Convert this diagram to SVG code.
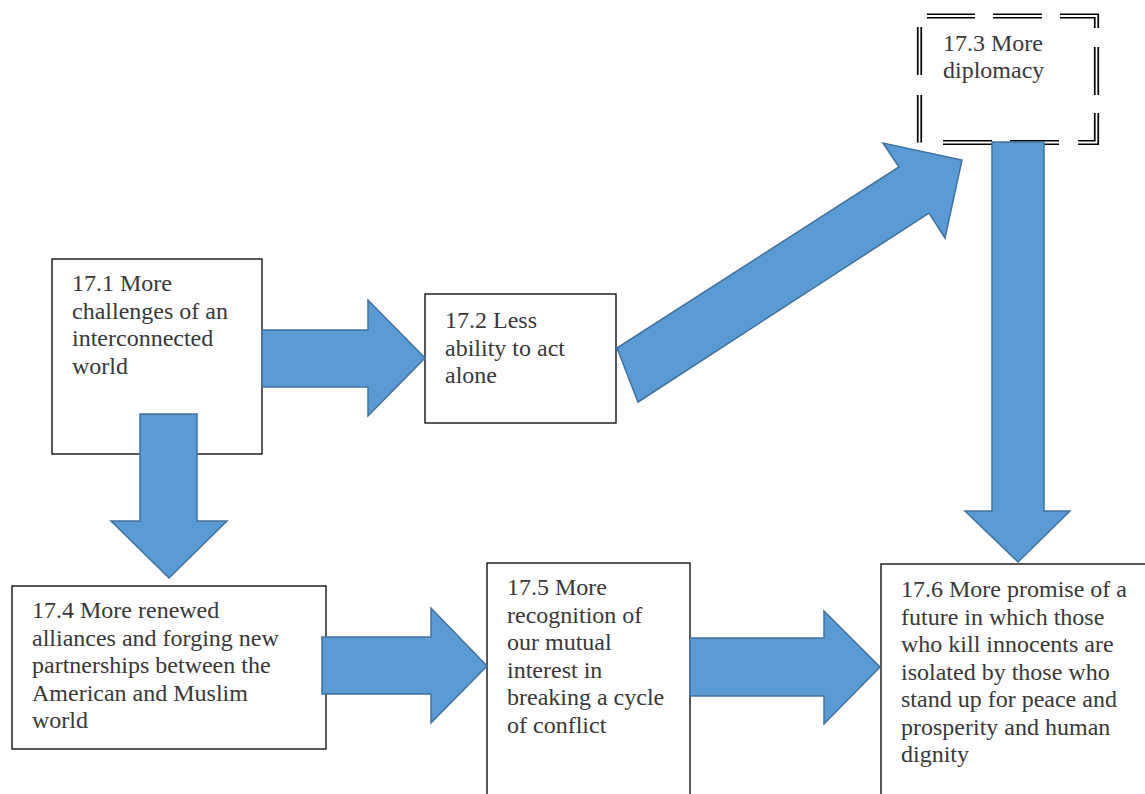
<svg xmlns="http://www.w3.org/2000/svg" width="1145" height="794" viewBox="0 0 1145 794">
<style>
.box{fill:#fff;stroke:#000;stroke-width:1.3}
.t{font-family:"Liberation Serif","Times New Roman",serif;font-size:24px;fill:#383838}
.arr{fill:#5b9bd5;stroke:#41719c;stroke-width:1.5;stroke-linejoin:miter}
.dbl-o{fill:none;stroke:#000;stroke-width:5.2;stroke-linecap:butt;stroke-linejoin:miter}
.dbl-i{fill:none;stroke:#fff;stroke-width:1.8;stroke-linecap:butt;stroke-linejoin:miter}
</style>
<rect width="1145" height="794" fill="#fff"/>
<g id="n171">
<rect class="box" x="52" y="259" width="210" height="195"/>
<text class="t"><tspan x="72" y="291">17.1 More</tspan><tspan x="72" y="318.5">challenges of an</tspan><tspan x="72" y="346">interconnected</tspan><tspan x="72" y="373.5">world</tspan></text>
</g>
<g id="n172">
<rect class="box" x="425" y="294" width="191" height="129"/>
<text class="t"><tspan x="445" y="328">17.2 Less</tspan><tspan x="445" y="355.5">ability to act</tspan><tspan x="445" y="383">alone</tspan></text>
</g>
<g id="n173">
<path class="dbl-o" d="M927,16H975M993,16H1042M1060,16H1096.5V28M1096.5,47V95M1096.5,113V142.5H1078M1059,142.5H1010M992,142.5H943M919.5,95V142.5M919.5,27V75"/>
<path class="dbl-i" d="M927,16H975M993,16H1042M1060,16H1096.5V28M1096.5,47V95M1096.5,113V142.5H1078M1059,142.5H1010M992,142.5H943M919.5,95V142.5M919.5,27V75"/>
<text class="t"><tspan x="943" y="51">17.3 More</tspan><tspan x="943" y="78">diplomacy</tspan></text>
</g>
<g id="n174">
<rect class="box" x="12" y="586" width="314" height="163"/>
<text class="t"><tspan x="32" y="618">17.4 More renewed</tspan><tspan x="32" y="645.5">alliances and forging new</tspan><tspan x="32" y="673">partnerships between the</tspan><tspan x="32" y="700.5">American and Muslim</tspan><tspan x="32" y="728">world</tspan></text>
</g>
<g id="n175">
<rect class="box" x="487" y="563" width="203" height="240"/>
<text class="t"><tspan x="507" y="595">17.5 More</tspan><tspan x="507" y="622.5">recognition of</tspan><tspan x="507" y="650">our mutual</tspan><tspan x="507" y="677.5">interest in</tspan><tspan x="507" y="705">breaking a cycle</tspan><tspan x="507" y="732.5">of conflict</tspan></text>
</g>
<g id="n176">
<rect class="box" x="881" y="564" width="270" height="240"/>
<text class="t"><tspan x="901" y="597">17.6 More promise of a</tspan><tspan x="901" y="624.5">future in which those</tspan><tspan x="901" y="652">who kill innocents are</tspan><tspan x="901" y="679.5">isolated by those who</tspan><tspan x="901" y="707">stand up for peace and</tspan><tspan x="901" y="734.5">prosperity and human</tspan><tspan x="901" y="762">dignity</tspan></text>
</g>
<g id="connectors">
<polygon class="arr" points="262,330 368,330 368,300 425,358 368,416 368,387 262,387"/>
<polygon class="arr" points="140,414 197,414 197,521 227,521 169,578 111,521 140,521"/>
<polygon class="arr" points="617,348 899,167 883,143 962,160 945,238 929,213 638,402"/>
<polygon class="arr" points="992,142 1044,142 1044,511 1070,511 1018,562 965,511 992,511"/>
<polygon class="arr" points="322,637 431,637 431,608 487,666 431,723 431,694 322,694"/>
<polygon class="arr" points="690,638 824,638 824,611 880,667 824,724 824,696 690,696"/>
</g>
</svg>
